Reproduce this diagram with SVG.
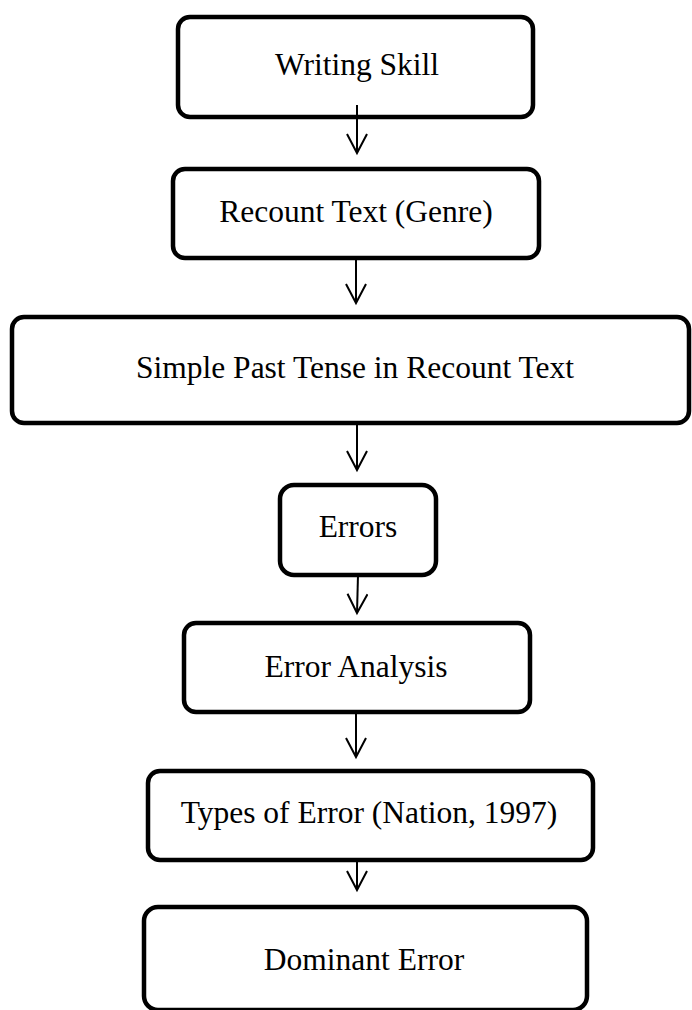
<svg xmlns="http://www.w3.org/2000/svg" width="692" height="1010" viewBox="0 0 692 1010">
  <style>
    .box { fill: #ffffff; stroke: #000000; stroke-width: 4.5; }
    .label { font-family: "Liberation Serif", "Times New Roman", serif; font-size: 31.5px; fill: #000000; text-anchor: middle; }
    .link { fill: none; stroke: #000000; stroke-width: 2; }
  </style>
  <defs>
    <marker id="open-arrow" markerUnits="userSpaceOnUse" markerWidth="24" markerHeight="24" refX="20" refY="11" orient="auto">
      <path d="M1,1 L20,11 L1,21" fill="none" stroke="#000000" stroke-width="2" stroke-linejoin="miter"/>
    </marker>
  </defs>
  <rect width="692" height="1010" fill="#ffffff"/>

  <g id="writing-skill">
    <rect class="box" x="178" y="17" width="355" height="100" rx="12"/>
    <text class="label" x="357" y="75">Writing Skill</text>
  </g>

  <g id="recount-text">
    <rect class="box" x="173" y="169" width="366" height="89" rx="12"/>
    <text class="label" x="356" y="222">Recount Text (Genre)</text>
  </g>

  <g id="simple-past">
    <rect class="box" x="12" y="317" width="677" height="106" rx="12"/>
    <text class="label" x="355" y="378">Simple Past Tense in Recount Text</text>
  </g>

  <g id="errors">
    <rect class="box" x="280" y="485" width="156" height="90" rx="14"/>
    <text class="label" x="358" y="537">Errors</text>
  </g>

  <g id="error-analysis">
    <rect class="box" x="184" y="623" width="346" height="89" rx="12"/>
    <text class="label" x="356" y="677">Error Analysis</text>
  </g>

  <g id="types-of-error">
    <rect class="box" x="148" y="771" width="445" height="89" rx="12"/>
    <text class="label" x="369" y="823">Types of Error (Nation, 1997)</text>
  </g>

  <g id="dominant-error">
    <rect class="box" x="144" y="907" width="443" height="103" rx="14"/>
    <text class="label" x="364" y="970">Dominant Error</text>
  </g>

  <g id="connectors">
    <line class="link" x1="357" y1="105" x2="357" y2="153" marker-end="url(#open-arrow)"/>
    <line class="link" x1="356" y1="256" x2="356" y2="303" marker-end="url(#open-arrow)"/>
    <line class="link" x1="357" y1="423" x2="357" y2="470" marker-end="url(#open-arrow)"/>
    <line class="link" x1="358" y1="575" x2="357" y2="613" marker-end="url(#open-arrow)"/>
    <line class="link" x1="356" y1="712" x2="356" y2="757" marker-end="url(#open-arrow)"/>
    <line class="link" x1="357" y1="860" x2="357" y2="890" marker-end="url(#open-arrow)"/>
  </g>
</svg>
